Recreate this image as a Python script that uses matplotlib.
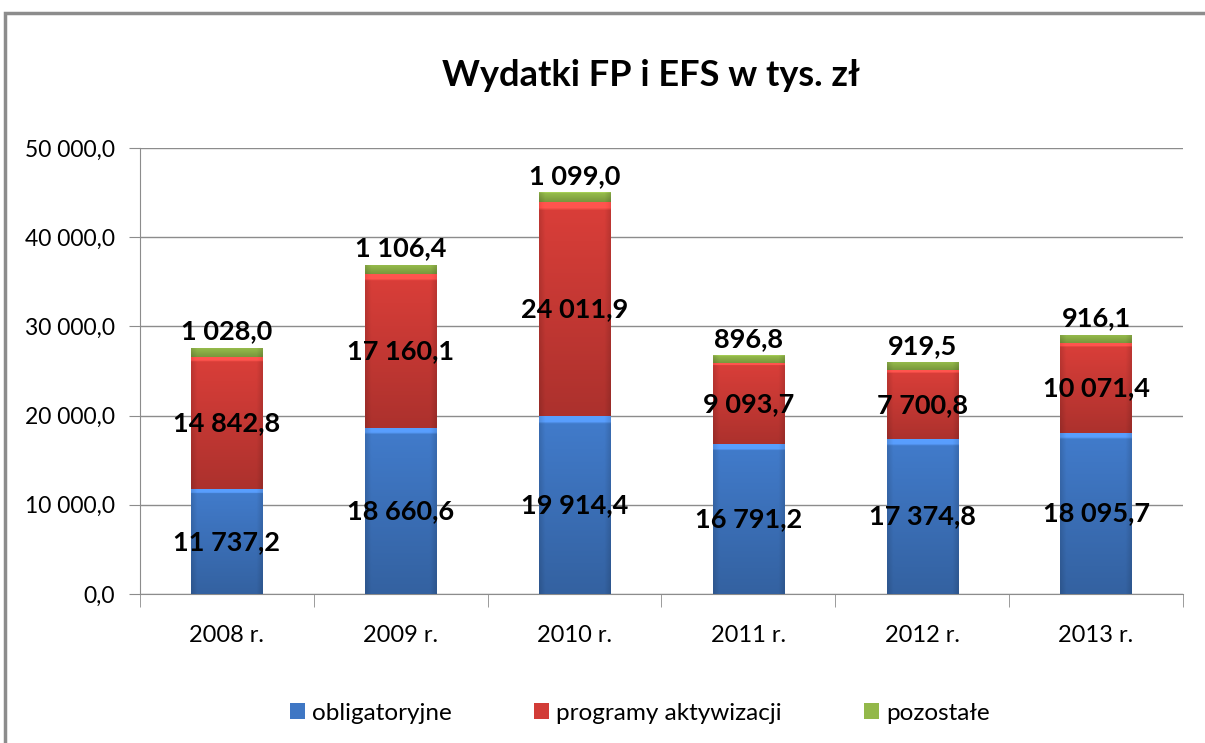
import matplotlib
matplotlib.use('Agg')
import matplotlib.pyplot as plt
import numpy as np
from matplotlib.patches import Rectangle
from matplotlib.colors import to_rgb

plt.rcParams['font.family'] = ['Lato', 'DejaVu Sans']

years = ['2008 r.', '2009 r.', '2010 r.', '2011 r.', '2012 r.', '2013 r.']
obligatoryjne = [11737.2, 18660.6, 19914.4, 16791.2, 17374.8, 18095.7]
programy = [14842.8, 17160.1, 24011.9, 9093.7, 7700.8, 10071.4]
pozostale = [1028.0, 1106.4, 1099.0, 896.8, 919.5, 916.1]
series_names = ['obligatoryjne', 'programy aktywizacji', 'pozostałe']
colors = ['#3f77c4', '#d23c37', '#93b84a']


def fmt(v):
    s = '{:,.1f}'.format(v)
    return s.replace(',', ' ').replace('.', ',')


def shade(patch, color, ax):
    # gradient fill, lighter at the top, darker edges (bevel look)
    x0, y0 = patch.get_x(), patch.get_y()
    w, h = patch.get_width(), patch.get_height()
    ny, nx = 80, 40
    yy = np.linspace(1, 0, ny)[:, None]
    xx = np.linspace(0, 1, nx)[None, :]
    f = 0.82 + 0.22 * yy
    edge = np.minimum(xx, 1 - xx)
    f = f * (0.88 + 0.12 * np.clip(edge / 0.08, 0, 1))
    img = np.clip(np.array(to_rgb(color))[None, None, :] * f[:, :, None], 0, 1)
    top = yy[:, 0] > 0.97
    img[top] = np.clip(img[top] * 1.2 + 0.04, 0, 1)
    im = ax.imshow(img, extent=[x0, x0 + w, y0, y0 + h], aspect='auto',
                   interpolation='bilinear', zorder=3)
    im.set_clip_path(patch)


fig = plt.figure(figsize=(12.05, 7.43), dpi=100)
ax = fig.add_axes([140 / 1205, 1 - 594 / 743, 1043 / 1205, 446 / 743])

x = np.arange(len(years))
width = 0.41
bottom = np.zeros(len(years))
for vals, name, col in zip([obligatoryjne, programy, pozostale], series_names, colors):
    bars = ax.bar(x, vals, width, bottom=bottom, color=col, label=name,
                  zorder=2, linewidth=0)
    for b in bars:
        shade(b, col, ax)
    bottom = bottom + np.array(vals)

# data labels
for i in range(len(years)):
    ax.text(x[i], obligatoryjne[i] / 2, fmt(obligatoryjne[i]), ha='center', va='center',
            fontsize=19.5, fontweight='bold', zorder=5)
    ax.text(x[i], obligatoryjne[i] + programy[i] / 2, fmt(programy[i]), ha='center',
            va='center', fontsize=19.5, fontweight='bold', zorder=5)
    ax.annotate(fmt(pozostale[i]), (x[i], bottom[i]), xytext=(0, 3),
                textcoords='offset points', ha='center', va='bottom',
                fontsize=19.5, fontweight='bold', zorder=5)

ax.set_xlim(-0.5, len(years) - 0.5)
ax.set_ylim(0, 50000)
ax.set_yticks(np.arange(0, 50001, 10000))
ax.set_yticklabels([fmt(v) for v in np.arange(0, 50001, 10000)], fontsize=16.5)
ax.set_xticks(x)
ax.set_xticklabels(years, fontsize=17)
ax.set_xticks(np.arange(-0.5, len(years)), minor=True)
ax.tick_params(axis='x', which='major', length=0, pad=22)
ax.tick_params(axis='x', which='minor', length=9, color='#8c8c8c')
ax.tick_params(axis='y', length=8, color='#8c8c8c', pad=10)
ax.grid(axis='y', color='#8c8c8c', linewidth=1, zorder=0)
for s in ['top', 'right']:
    ax.spines[s].set_visible(False)
for s in ['left', 'bottom']:
    ax.spines[s].set_color('#8c8c8c')

fig.suptitle('Wydatki FP i EFS w tys. zł', x=651 / 1205, y=1 - 75 / 743, va='center',
             fontsize=26, fontweight='bold')

leg = fig.legend(loc='center', bbox_to_anchor=(640 / 1205, 1 - 713 / 743), ncol=3,
                 frameon=False, fontsize=17.5, handlelength=0.6, handleheight=0.6,
                 handletextpad=0.3, columnspacing=3.4)

fig.patches.append(Rectangle((5 / 1205, -0.1), 1.2, 1 - 13 / 743 + 0.1,
                             transform=fig.transFigure, fill=False,
                             edgecolor='#8c8c8c', linewidth=2.5))

fig.savefig('out.png', dpi=100)
